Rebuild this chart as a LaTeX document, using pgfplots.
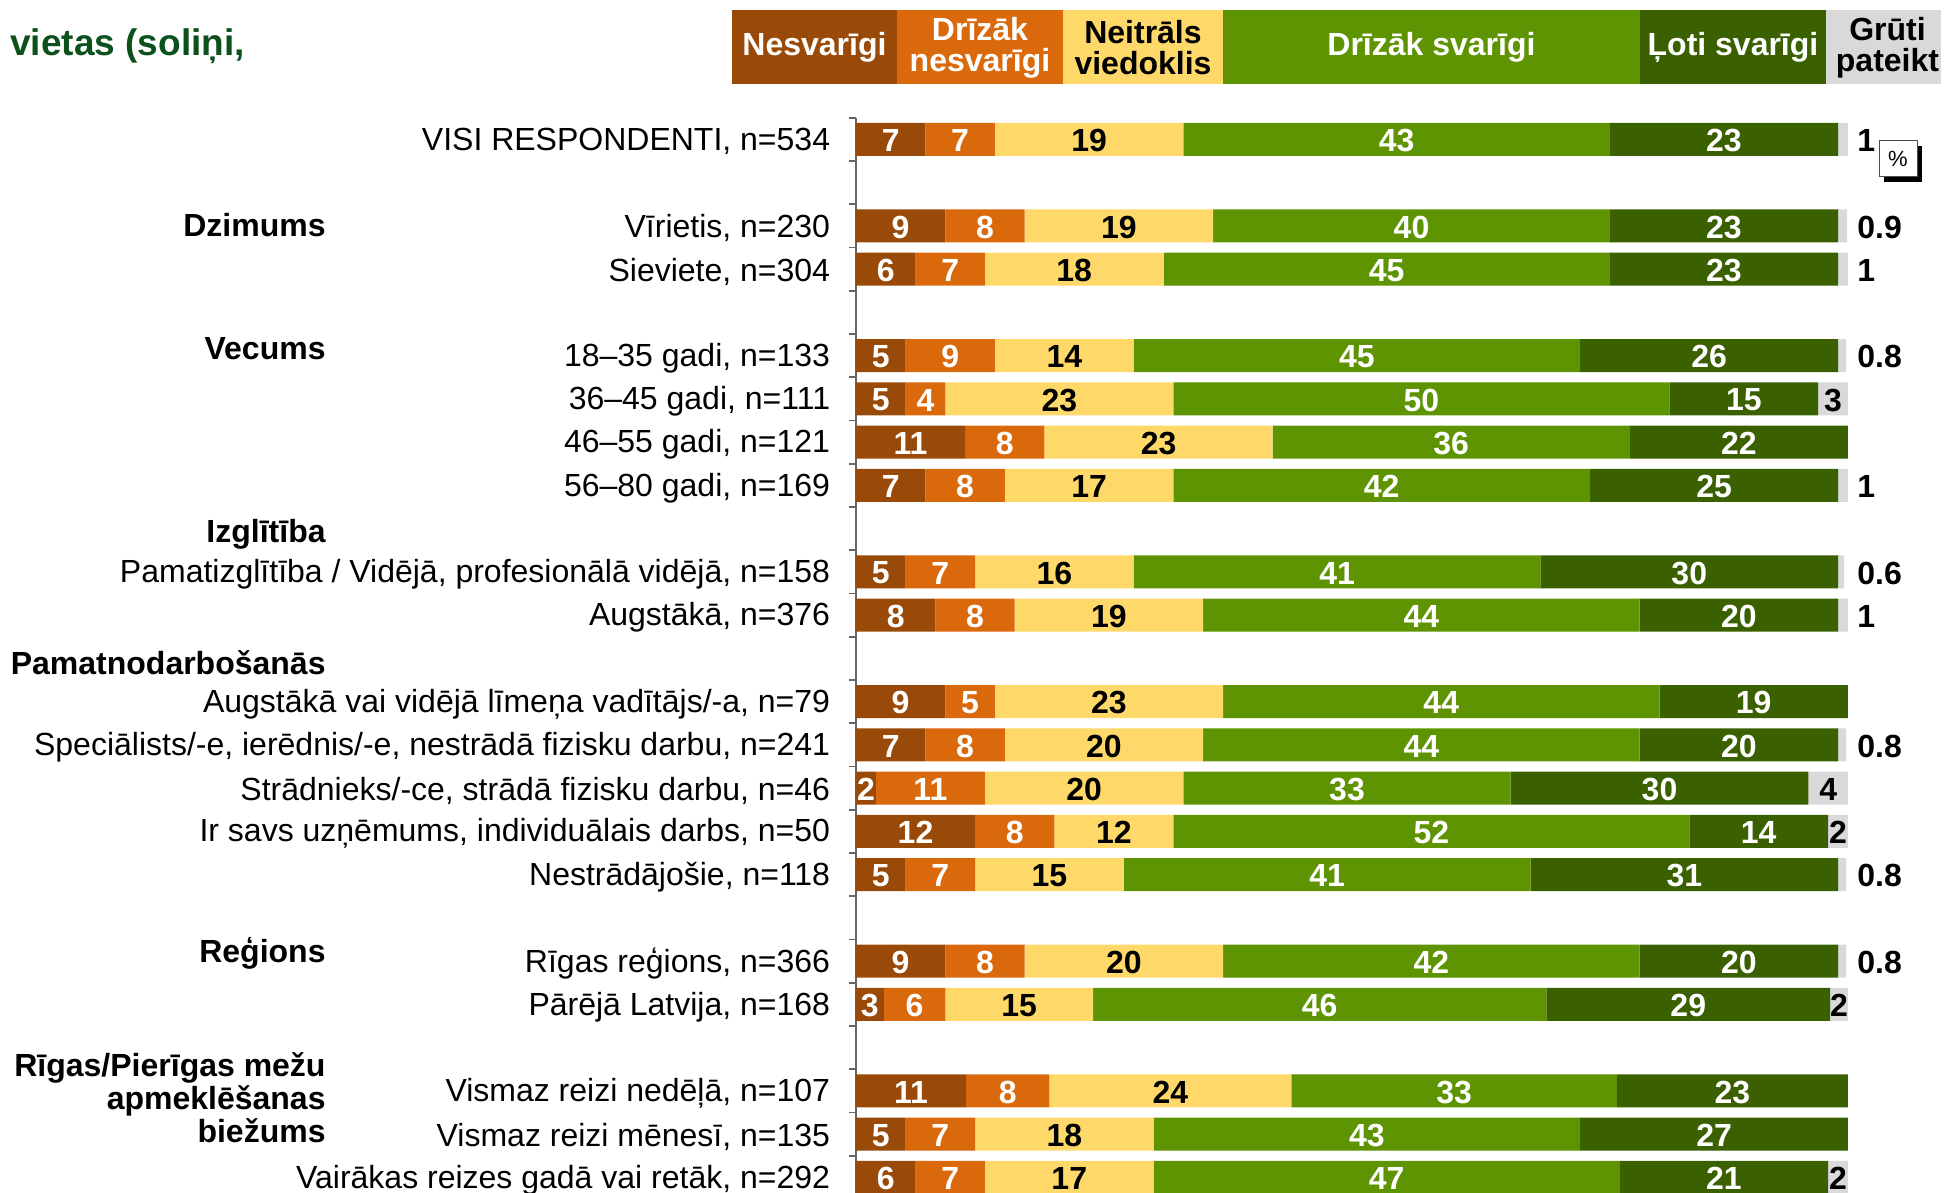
\documentclass[border=0pt]{standalone}
\usepackage{fontspec}
\setmainfont{Liberation Sans}
\usepackage{pgfplots}
\usepackage{pgfplotstable}
\pgfplotsset{compat=1.18}

\definecolor{cNes}{RGB}{154,74,8}
\definecolor{cDrN}{RGB}{218,105,12}
\definecolor{cNeu}{RGB}{254,217,105}
\definecolor{cDrS}{RGB}{94,147,2}
\definecolor{cLot}{RGB}{59,96,0}
\definecolor{cGru}{RGB}{217,217,217}
\definecolor{cTitle}{RGB}{12,80,28}

\newcommand{\lblfont}{\fontsize{16}{19}\selectfont}

% y = row slot (0 = top); segment shares in %
\pgfplotstableread{
y a b c d e f
0 7 7 19 43 23 1
2 9 8 19 40 23 0.9
3 6 7 18 45 23 1
5 5 9 14 45 26 0.8
6 5 4 23 50 15 3
7 11 8 23 36 22 0
8 7 8 17 42 25 1
10 5 7 16 41 30 0.6
11 8 8 19 44 20 1
13 9 5 23 44 19 0
14 7 8 20 44 20 0.8
15 2 11 20 33 30 4
16 12 8 12 52 14 2
17 5 7 15 41 31 0.8
19 9 8 20 42 20 0.8
20 2.8 6.2 14.9 45.7 28.6 1.8
22 11.1 8.4 24.4 32.8 23.3 0
23 5 7 18 43 27 0
24 6 7 17 47 21 2
}\data

% "Grūti pateikt" labels drawn inside the grey segment (s = start of segment)
\pgfplotstableread{
y s f lab
6 97 3 3
15 96 4 4
16 98 2 2
20 98.2 1.8 2
24 98 2 2
}\grayin

% "Grūti pateikt" labels drawn to the right of the bar
\pgfplotstableread{
y f
0 1
2 0.9
3 1
5 0.8
8 1
10 0.6
11 1
14 0.8
17 0.8
19 0.8
}\grayout

\begin{document}
\begin{tikzpicture}
\begin{axis}[
  xbar stacked, bar width=16.5pt,
  width=496pt, height=540.625pt, scale only axis,
  at={(0,0)}, anchor=south west,
  xmin=0, xmax=100, ymin=-0.5, ymax=24.5, y dir=reverse,
  axis x line=none, axis y line*=left,
  y axis line style={draw=black!60, line width=0.8pt},
  ytick={-0.5,0.5,...,23.5}, yticklabels={},
  tick align=outside, major tick length=3.5pt,
  ytick style={draw=black!60, line width=0.8pt},
  extra y ticks={0,2,3,5,6,7,8,10,11,13,14,15,16,17,19,20,22,23,24},
  extra y tick labels={
    {VISI RESPONDENTI, n=534},
    {Vīrietis, n=230},
    {Sieviete, n=304},
    {18–35 gadi, n=133},
    {36–45 gadi, n=111},
    {46–55 gadi, n=121},
    {56–80 gadi, n=169},
    {Pamatizglītība / Vidējā, profesionālā vidējā, n=158},
    {Augstākā, n=376},
    {Augstākā vai vidējā līmeņa vadītājs/-a, n=79},
    {Speciālists/-e, ierēdnis/-e, nestrādā fizisku darbu, n=241},
    {Strādnieks/-ce, strādā fizisku darbu, n=46},
    {Ir savs uzņēmums, individuālais darbs, n=50},
    {Nestrādājošie, n=118},
    {Rīgas reģions, n=366},
    {Pārējā Latvija, n=168},
    {Vismaz reizi nedēļā, n=107},
    {Vismaz reizi mēnesī, n=135},
    {Vairākas reizes gadā vai retāk, n=292}},
  extra y tick style={major tick length=0pt, tick style={draw=none}},
  yticklabel style={anchor=east, inner sep=0pt, xshift=-12.75pt, yshift=-1.2pt, font=\lblfont},
  clip=false,
]
\addplot[fill=cNes, draw=none] table[x=a, y=y]{\data};
\addplot[fill=cDrN, draw=none] table[x=b, y=y]{\data};
\addplot[fill=cNeu, draw=none] table[x=c, y=y]{\data};
\addplot[fill=cDrS, draw=none] table[x=d, y=y]{\data};
\addplot[fill=cLot, draw=none] table[x=e, y=y]{\data};
\addplot[fill=cGru, draw=none] table[x=f, y=y]{\data};
\end{axis}

\begin{axis}[
  width=496pt, height=540.625pt, scale only axis,
  at={(0,0)}, anchor=south west,
  xmin=0, xmax=100, ymin=-0.5, ymax=24.5, y dir=reverse,
  hide axis, clip=false,
  /pgf/number format/assume math mode=true,
  point meta=explicit,
  nodes near coords={\pgfmathprintnumber[fixed, precision=0, assume math mode=true]{\pgfplotspointmeta}},
  nodes near coords style={font=\bfseries\lblfont, inner sep=0pt, anchor=center, yshift=-0.6pt},
]
\addplot[draw=none, mark=none, nodes near coords style={text=white}]
  table[x expr=\thisrow{a}/2, y=y, meta=a]{\data};
\addplot[draw=none, mark=none, nodes near coords style={text=white}]
  table[x expr=\thisrow{a}+\thisrow{b}/2, y=y, meta=b]{\data};
\addplot[draw=none, mark=none, nodes near coords style={text=black}]
  table[x expr=\thisrow{a}+\thisrow{b}+\thisrow{c}/2, y=y, meta=c]{\data};
\addplot[draw=none, mark=none, nodes near coords style={text=white}]
  table[x expr=\thisrow{a}+\thisrow{b}+\thisrow{c}+\thisrow{d}/2, y=y, meta=d]{\data};
\addplot[draw=none, mark=none, nodes near coords style={text=white}]
  table[x expr=\thisrow{a}+\thisrow{b}+\thisrow{c}+\thisrow{d}+\thisrow{e}/2, y=y, meta=e]{\data};
\addplot[draw=none, mark=none, point meta=explicit symbolic,
  nodes near coords={\pgfplotspointmeta}, nodes near coords style={text=black}]
  table[x expr=\thisrow{s}+\thisrow{f}/2, y=y, meta=lab]{\grayin};
\addplot[draw=none, mark=none, point meta=explicit symbolic,
  nodes near coords={\pgfplotspointmeta}, nodes near coords style={text=black, anchor=west, xshift=4.5pt}]
  table[x expr=100, y=y, meta=f]{\grayout};

% group headers
\begin{scope}[every node/.style={anchor=east, inner sep=0pt, font=\bfseries\lblfont, xshift=-265pt}]
\node at (axis cs:0,1.98) {Dzimums};
\node at (axis cs:0,4.83) {Vecums};
\node at (axis cs:0,9.13) {Izglītība};
\node at (axis cs:0,12.1) {Pamatnodarbošanās};
\node at (axis cs:0,18.82) {Reģions};
\node[align=right, font=\bfseries\fontsize{16}{16.5}\selectfont] at (axis cs:0,22.15) {Rīgas/Pierīgas mežu\\apmeklēšanas\\biežums};
\end{scope}
\end{axis}

% title
\node[anchor=west, inner sep=0pt, text=cTitle, font=\bfseries\fontsize{18.5}{22}\selectfont] at (-423pt,576.2pt) {vietas (soliņi,};

% legend strip
\begin{scope}[every node/.style={font=\bfseries\fontsize{16}{15.5}\selectfont, align=center, inner sep=0pt}]
\fill[cNes] (-62pt,557.5pt) rectangle (20.5pt,594.5pt);
\fill[cDrN] (20.5pt,557.5pt) rectangle (103.5pt,594.5pt);
\fill[cNeu] (103.5pt,557.5pt) rectangle (183.5pt,594.5pt);
\fill[cDrS] (183.5pt,557.5pt) rectangle (392pt,594.5pt);
\fill[cLot] (392pt,557.5pt) rectangle (485pt,594.5pt);
\fill[cGru] (485pt,557.5pt) rectangle (542.5pt,594.5pt);
\node[text=white] at (-20.75pt,576pt) {Nesvarīgi};
\node[text=white] at (62pt,575.5pt) {Drīzāk\\nesvarīgi};
\node[text=black] at (143.5pt,575.5pt) {Neitrāls\\viedoklis};
\node[text=white] at (287.75pt,576pt) {Drīzāk svarīgi};
\node[text=white] at (438.5pt,576pt) {Ļoti svarīgi};
\node[text=black] at (515.75pt,575.5pt) {Grūti\\pateikt};
\end{scope}

% percent box
\fill[black] (514pt,508.5pt) rectangle (533pt,526.5pt);
\filldraw[fill=white, draw=black!70, line width=0.5pt] (511.5pt,511pt) rectangle (530.5pt,529pt);
\node[font=\fontsize{11}{13}\selectfont, inner sep=0pt] at (521pt,520pt) {\%};

\pgfresetboundingbox
\path[use as bounding box] (-428pt,3pt) rectangle (544.5pt,599.5pt);
\end{tikzpicture}
\end{document}
